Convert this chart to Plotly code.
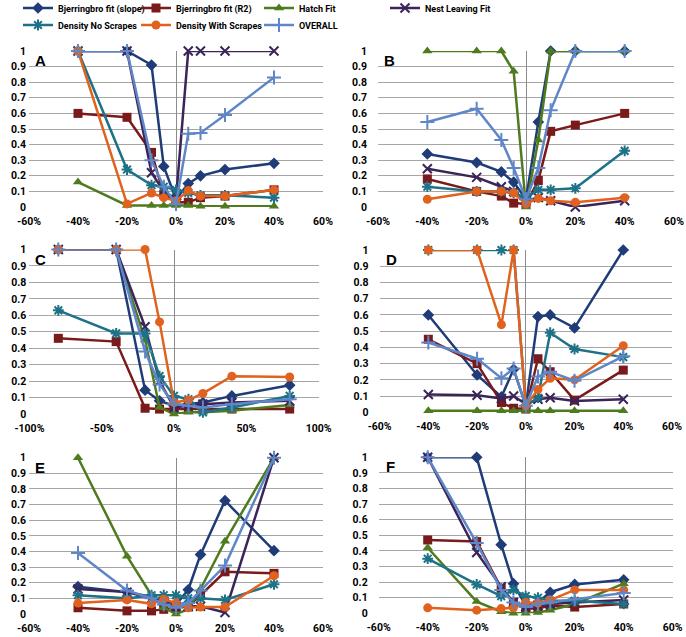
import plotly.graph_objects as go

# ---------------- data ----------------
series_names = ["Bjerringbro fit (slope)", "Bjerringbro fit (R2)", "Hatch Fit",
                "Nest Leaving Fit", "Density No Scrapes", "Density With Scrapes", "OVERALL"]

x_std = [-40, -20, -10, -5, 0, 5, 10, 20, 40]
x_C = [-80, -40, -20, -10, 0, 10, 20, 40, 80]

x_ticks_std = [-60, -40, -20, 0, 20, 40, 60]
x_ticktext_std = ["-60%", "-40%", "-20%", "0%", "20%", "40%", "60%"]
x_ticks_C = [-100, -50, 0, 50, 100]
x_ticktext_C = ["-100%", "-50%", "0%", "50%", "100%"]
y_ticks = [0, 0.1, 0.2, 0.3, 0.4, 0.5, 0.6, 0.7, 0.8, 0.9, 1]
y_ticktext = ["0", "0.1", "0.2", "0.3", "0.4", "0.5", "0.6", "0.7", "0.8", "0.9", "1"]

# Panel A
A_slope = [1.0, 1.0, 0.91, 0.26, 0.05, 0.15, 0.20, 0.24, 0.28]
A_r2 = [0.60, 0.575, 0.35, 0.08, 0.03, 0.03, 0.06, 0.07, 0.11]
A_hatch = [0.16, 0.01, 0.01, 0.01, 0.01, 0.01, 0.005, 0.005, 0.005]
A_nest = [1.0, 1.0, 0.22, 0.10, 0.05, 1.0, 1.0, 1.0, 1.0]
A_dens_no = [1.0, 0.24, 0.14, 0.13, 0.11, 0.09, 0.075, 0.075, 0.06]
A_dens_with = [1.0, 0.02, 0.09, 0.06, 0.04, 0.105, 0.07, 0.07, 0.11]
A_overall = [1.0, 1.0, 0.30, 0.13, 0.02, 0.47, 0.475, 0.59, 0.83]

# Panel B
B_slope = [0.34, 0.285, 0.225, 0.16, 0.05, 0.545, 1.0, 1.0, 1.0]
B_r2 = [0.18, 0.10, 0.07, 0.025, 0.02, 0.17, 0.485, 0.525, 0.60]
B_hatch = [1.0, 1.0, 1.0, 0.87, 0.0, 0.43, 1.0, 1.0, 1.0]
B_nest = [0.245, 0.19, 0.13, 0.10, 0.04, 0.06, 0.04, 0.0, 0.04]
B_dens_no = [0.13, 0.10, 0.10, 0.09, 0.06, 0.11, 0.11, 0.12, 0.36]
B_dens_with = [0.05, 0.10, 0.10, 0.09, 0.02, 0.055, 0.04, 0.03, 0.06]
B_overall = [0.545, 0.63, 0.43, 0.25, 0.05, 0.25, 0.62, 1.0, 1.0]

# Panel C
C_slope = [1.0, 1.0, 0.145, 0.08, 0.05, 0.06, 0.07, 0.11, 0.175]
C_r2 = [0.46, 0.44, 0.035, 0.03, 0.03, 0.03, 0.03, 0.03, 0.03]
C_hatch = [1.0, 1.0, 0.45, 0.04, 0.0, 0.01, 0.01, 0.02, 0.055]
C_nest = [1.0, 1.0, 0.53, 0.20, 0.04, 0.05, 0.06, 0.07, 0.08]
C_dens_no = [0.63, 0.49, 0.49, 0.23, 0.11, 0.09, 0.01, 0.04, 0.11]
C_dens_with = [1.0, 1.0, 1.0, 0.56, 0.07, 0.085, 0.125, 0.23, 0.225]
C_overall = [1.0, 1.0, 0.38, 0.18, 0.06, 0.05, 0.04, 0.06, 0.09]

# Panel D
D_slope = [0.60, 0.23, 0.095, 0.265, 0.04, 0.59, 0.60, 0.52, 1.0]
D_r2 = [0.45, 0.30, 0.06, 0.025, 0.02, 0.33, 0.25, 0.075, 0.26]
D_hatch = [0.01, 0.01, 0.01, 0.01, 0.01, 0.01, 0.01, 0.01, 0.01]
D_nest = [0.11, 0.105, 0.085, 0.10, 0.05, 0.08, 0.09, 0.07, 0.08]
D_dens_no = [1.0, 1.0, 1.0, 1.0, 0.04, 0.09, 0.49, 0.39, 0.34]
D_dens_with = [1.0, 1.0, 0.54, 1.0, 0.04, 0.14, 0.21, 0.20, 0.41]
D_overall = [0.43, 0.33, 0.21, 0.27, 0.04, 0.22, 0.25, 0.195, 0.345]

# Panel E
E_slope = [0.175, 0.14, 0.11, 0.09, 0.06, 0.155, 0.38, 0.725, 0.405]
E_r2 = [0.04, 0.02, 0.02, 0.03, 0.04, 0.05, 0.12, 0.27, 0.26]
E_hatch = [1.0, 0.37, 0.12, 0.04, 0.0, 0.03, 0.16, 0.465, 1.0]
E_nest = [0.16, 0.14, 0.10, 0.08, 0.05, 0.05, 0.05, 0.01, 1.0]
E_dens_no = [0.12, 0.10, 0.12, 0.12, 0.12, 0.10, 0.10, 0.09, 0.19]
E_dens_with = [0.07, 0.09, 0.065, 0.095, 0.07, 0.04, 0.045, 0.045, 0.245]
E_overall = [0.39, 0.15, 0.10, 0.06, 0.04, 0.07, 0.15, 0.31, 1.0]

# Panel F
F_slope = [1.0, 1.0, 0.44, 0.19, 0.05, 0.07, 0.135, 0.185, 0.215]
F_r2 = [0.47, 0.46, 0.16, 0.07, 0.03, 0.03, 0.05, 0.04, 0.06]
F_hatch = [0.42, 0.075, 0.01, 0.0, 0.0, 0.005, 0.02, 0.06, 0.19]
F_nest = [1.0, 0.39, 0.17, 0.07, 0.04, 0.05, 0.06, 0.07, 0.085]
F_dens_no = [0.35, 0.185, 0.11, 0.15, 0.11, 0.10, 0.08, 0.08, 0.06]
F_dens_with = [0.035, 0.02, 0.03, 0.035, 0.07, 0.065, 0.085, 0.15, 0.15]
F_overall = [1.0, 0.45, 0.15, 0.07, 0.04, 0.06, 0.07, 0.09, 0.13]

panel_letters = ["A", "B", "C", "D", "E", "F"]
panel_data = [
    (x_std, [A_slope, A_r2, A_hatch, A_nest, A_dens_no, A_dens_with, A_overall]),
    (x_std, [B_slope, B_r2, B_hatch, B_nest, B_dens_no, B_dens_with, B_overall]),
    (x_C, [C_slope, C_r2, C_hatch, C_nest, C_dens_no, C_dens_with, C_overall]),
    (x_std, [D_slope, D_r2, D_hatch, D_nest, D_dens_no, D_dens_with, D_overall]),
    (x_std, [E_slope, E_r2, E_hatch, E_nest, E_dens_no, E_dens_with, E_overall]),
    (x_std, [F_slope, F_r2, F_hatch, F_nest, F_dens_no, F_dens_with, F_overall]),
]

# ---------------- styles ----------------
colors = ["#1F3C78", "#7A1A1A", "#4E7B1D", "#3B2458", "#1D7287", "#E0621E", "#5F87C8"]
symbols = ["diamond", "square", "triangle-up", "x-thin", "asterisk", "circle", "cross-thin"]
sizes = [9, 9, 9, 9, 9, 9, 10]

W, H = 686, 637
# pixel boxes: (x_left, x_right, y_top, y_bottom)
boxes = [
    (29, 323, 51, 207),
    (378, 674, 51, 207),
    (29.4, 318.6, 249.5, 414),
    (379.6, 672, 250, 412.3),
    (29, 323, 457.7, 614),
    (378.7, 672.7, 457.3, 613.3),
]
# legend box left positions (px) and row centres
legend_pos = [(18, 8), (136, 8), (259, 8), (385, 8), (18, 25), (136, 25), (259, 25)]
FONT = "Roboto, Liberation Sans, Arial"

fig = go.Figure()
layout_axes = {}
annotations = []
for i, ((xs, ys_list), box) in enumerate(zip(panel_data, boxes)):
    n = i + 1
    xa = "x" if n == 1 else f"x{n}"
    ya = "y" if n == 1 else f"y{n}"
    for k, ys in enumerate(ys_list):
        open_sym = symbols[k] in ("x-thin", "asterisk", "cross-thin")
        marker = dict(symbol=symbols[k], size=sizes[k], color=colors[k],
                      line=dict(color=colors[k], width=2 if open_sym else 0))
        fig.add_trace(go.Scatter(
            x=xs, y=ys, mode="lines+markers", name=series_names[k],
            line=dict(color=colors[k], width=2.5), marker=marker,
            xaxis=xa, yaxis=ya, cliponaxis=False,
            showlegend=(i == 0), legend="legend" if k == 0 else f"legend{k + 1}",
        ))
    xl, xr, yt, yb = box
    is_C = (i == 2)
    layout_axes[f"xaxis{'' if n == 1 else n}"] = dict(
        domain=[xl / W, xr / W], anchor=ya, automargin=False,
        range=[-100, 100] if is_C else [-60, 60],
        tickvals=x_ticks_C if is_C else x_ticks_std,
        ticktext=x_ticktext_C if is_C else x_ticktext_std,
        showgrid=False, zeroline=True, zerolinecolor="#8C8C8C", zerolinewidth=1,
        showline=False, ticks="", ticklabelstandoff=6,
        tickfont=dict(family=FONT, size=10.5, color="black", weight="bold"),
    )
    layout_axes[f"yaxis{'' if n == 1 else n}"] = dict(
        domain=[1 - yb / H, 1 - yt / H], anchor=xa, automargin=False,
        range=[0, 1], tickvals=y_ticks, ticktext=y_ticktext,
        showgrid=True, gridcolor="#A6A6A6", gridwidth=1, zeroline=False,
        showline=False, ticks="", ticklabelstandoff=(2 if i % 2 == 0 else 10),
        tickfont=dict(family=FONT, size=10.5, color="black", weight="bold"),
    )
    annotations.append(dict(
        text=panel_letters[i], xref=f"{xa} domain", yref=f"{ya} domain",
        x=(11 if i % 2 == 0 else 12) / (xr - xl), y=0.94, xanchor="center", yanchor="middle",
        showarrow=False, font=dict(family="Liberation Sans", size=15, color="black", weight="bold"),
    ))

legends = {}
for k, (lx, cy) in enumerate(legend_pos):
    key = "legend" if k == 0 else f"legend{k + 1}"
    legends[key] = dict(
        orientation="h", xanchor="left", yanchor="middle",
        x=lx / W, y=1 - cy / H,
        font=dict(family=FONT, size=9, color="black", weight="bold"),
        bgcolor="rgba(0,0,0,0)", borderwidth=0, itemwidth=30,
    )

fig.update_layout(
    width=W, height=H, margin=dict(l=0, r=0, t=0, b=0, autoexpand=False),
    paper_bgcolor="white", plot_bgcolor="white",
    showlegend=True,
    annotations=annotations,
    **legends,
    **layout_axes,
)

fig.write_html("out.html", config={"displayModeBar": False},
               post_script="document.body.style.margin='0px';document.body.style.overflow='hidden';")
